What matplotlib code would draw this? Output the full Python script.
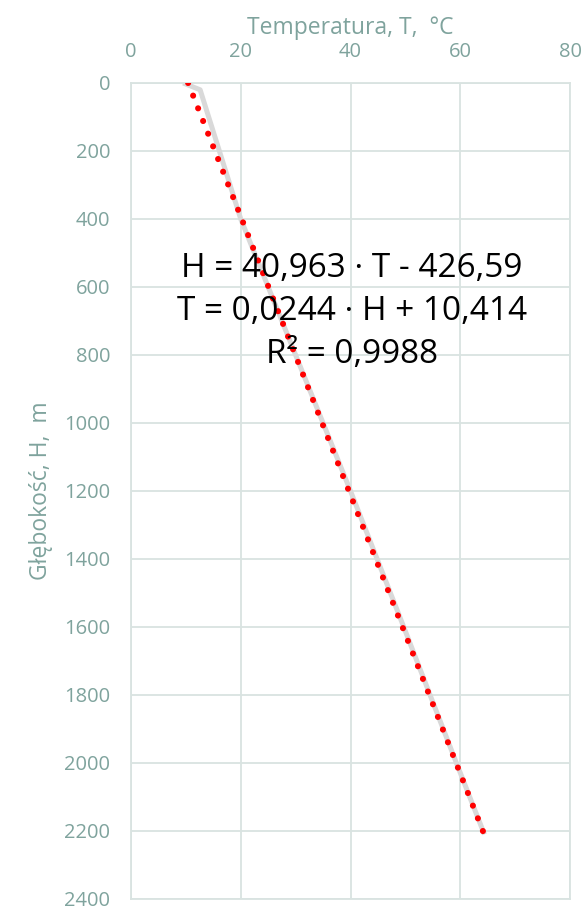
# temperature vs depth profile with linear trend

import numpy as np
import matplotlib.pyplot as plt

plt.rcParams['font.family'] = ['Open Sans', 'DejaVu Sans']

# measured profile (temperature, depth)
temp = [9.5, 12.6, 20.0, 30.0, 40.0, 49.7, 59.3, 64.4]
depth = [0, 20, 400, 800, 1200, 1600, 2000, 2210]

# trend coefficients H = a*T + b
slope = 40.963
intercept = -426.59
eq_text = 'H = 40,963 · T - 426,59\nT = 0,0244 · H + 10,414\nR² = 0,9988'

xticks = [0, 20, 40, 60, 80]
yticks = list(range(0, 2401, 200))

tick_col = '#7FA39D'
grid_col = '#D9E3E1'

fig = plt.figure(figsize=(5.85, 9.15), dpi=100)
ax = fig.add_axes([0.2239, 0.0175, 0.7505, 0.8918])

ax.plot(temp, depth, color='#D9D9D9', lw=3.6, zorder=2, solid_capstyle='butt')

t_fit = np.array([min(temp), max(temp)])
ax.plot(t_fit, slope * t_fit + intercept, color='#FF0000', lw=4.4,
        linestyle=(0, (0.01, 2.22)), dash_capstyle='round', zorder=3)

ax.set_xlim(0, 80)
ax.set_ylim(2400, 0)
ax.set_xticks(xticks)
ax.set_yticks(yticks)
ax.xaxis.tick_top()
ax.xaxis.set_label_position('top')
ax.tick_params(length=0, colors=tick_col, labelsize=14.5, pad=15)
ax.grid(True, color=grid_col, lw=1.3, zorder=0)
ax.set_axisbelow(True)
for s in ax.spines.values():
    s.set_color(grid_col)
    s.set_linewidth(1.3)

ax.set_xlabel('Temperatura, T,  °C', color=tick_col, fontsize=16.5, labelpad=6)
ax.set_ylabel('Głębokość, H,  m', color=tick_col, fontsize=16.5, labelpad=8)

ax.text(40.3, 672, eq_text, ha='center', va='center', fontsize=24,
        color='black', linespacing=1.4, zorder=4)

fig.savefig('out.png', dpi=100)
